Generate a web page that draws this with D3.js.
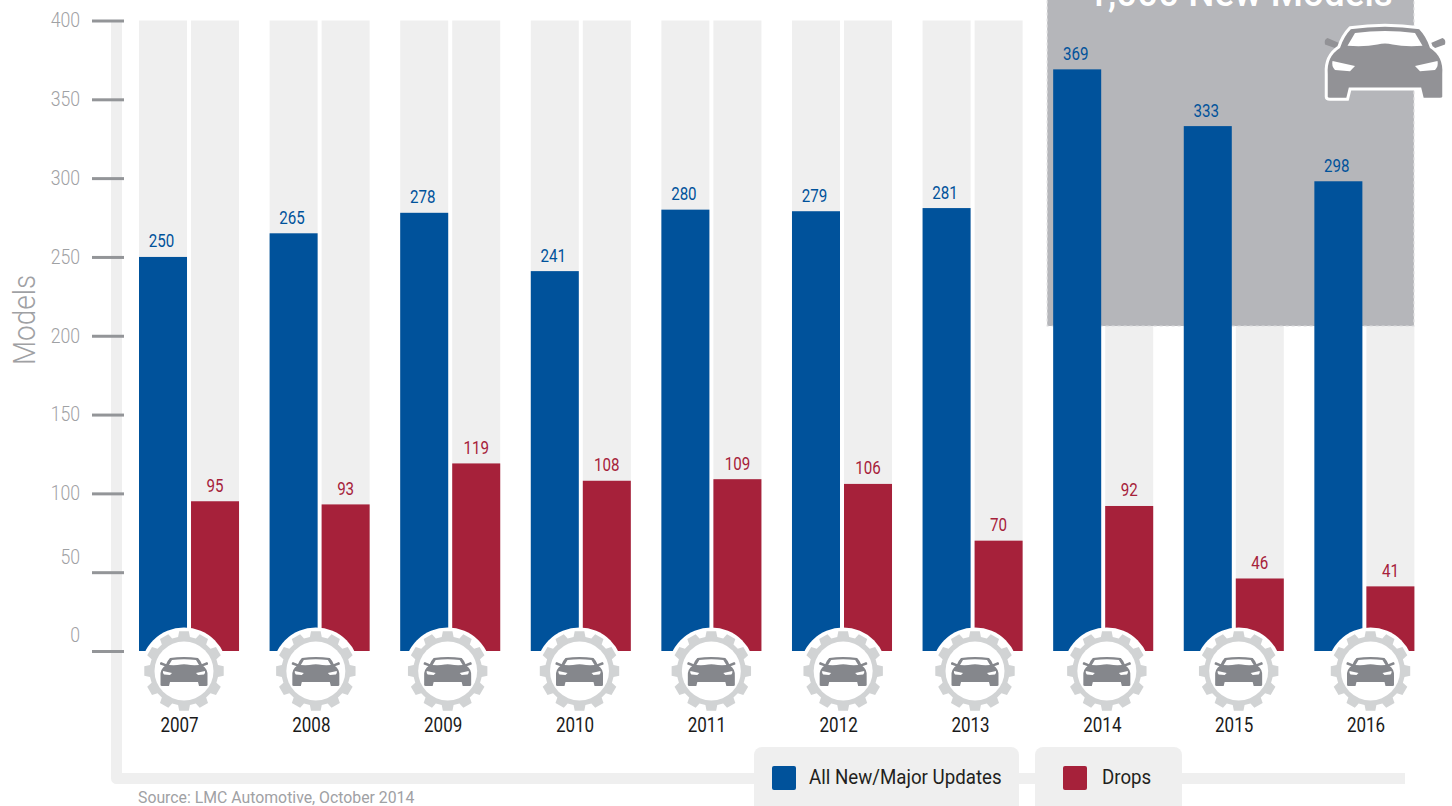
<!DOCTYPE html>
<html>
<head>
<meta charset="utf-8">
<script src="https://cdn.jsdelivr.net/npm/d3@7"></script>
<style>
  html, body { margin: 0; padding: 0; background: #fff; overflow: hidden; }
  svg { display: block; }
  text { font-family: Roboto, "Liberation Sans", sans-serif; }
</style>
</head>
<body>
<svg width="1452" height="806"></svg>
<script>
const years = ['2007', '2008', '2009', '2010', '2011', '2012', '2013', '2014', '2015', '2016'];
const updates = [250, 265, 278, 241, 280, 279, 281, 369, 333, 298];
const drops = [95, 93, 119, 108, 109, 106, 70, 92, 46, 41];
const yTicks = [0, 50, 100, 150, 200, 250, 300, 350, 400];
const legendLabels = ['All New/Major Updates', 'Drops'];

const blue = '#00529b';
const red = '#a6213a';
const lightGrey = '#efefef';
const tickGrey = '#939598';
const labelGrey = '#9fa1a4';

const svg = d3.select('svg');

// no condensed face is installed, so squeeze the text to the original's widths
function squeeze(selection, factor) {
    selection.each(function () {
        const len = this.getComputedTextLength();
        d3.select(this)
            .attr('textLength', len * factor)
            .attr('lengthAdjust', 'spacingAndGlyphs');
    });
}

// scales
const y = d3.scaleLinear().domain([0, 400]).range([651, 20.5]);
const x0 = d3.scaleBand().domain(years).range([139, 1414.4]).paddingInner(0.234);
const x1 = d3.scaleBand().domain(['updates', 'drops']).range([0, x0.bandwidth()]).paddingInner(0.077);
// the badges under the bars sit on a slightly wider pitch than the bars
const xBadge = d3.scalePoint().domain(years).range([184, 1370.5]);

// frame round the plot
svg.append('path')
    .attr('d', 'M116.5,20V778.5H1405')
    .attr('fill', 'none')
    .attr('stroke', lightGrey)
    .attr('stroke-width', 11)
    .attr('stroke-linejoin', 'round');

// y axis
const yAxis = svg.append('g')
    .attr('transform', 'translate(124,0)')
    .call(d3.axisLeft(y).tickValues(yTicks).tickSize(32).tickPadding(12));
yAxis.select('.domain').remove();
yAxis.selectAll('line').attr('stroke', tickGrey).attr('stroke-width', 3);
yAxis.selectAll('text')
    .attr('fill', labelGrey)
    .style('font-size', '21px')
    .style('font-weight', 300)
    // the two lowest labels sit above their ticks in the original
    .attr('dy', d => d <= 50 ? '-0.43em' : '0.3em')
    .call(squeeze, 0.84);

svg.append('text')
    .attr('transform', 'translate(35,320) rotate(-90)')
    .attr('text-anchor', 'middle')
    .attr('fill', labelGrey)
    .style('font-size', '31px')
    .style('font-weight', 300)
    .text('Models')
    .call(squeeze, 0.9);

// light background columns
const groups = svg.selectAll('.year')
    .data(years)
    .join('g')
    .attr('class', 'year')
    .attr('transform', d => `translate(${x0(d)},0)`);

['updates', 'drops'].forEach(key => {
    groups.append('rect')
        .attr('x', x1(key))
        .attr('y', y(400))
        .attr('width', x1.bandwidth())
        .attr('height', y(0) - y(400))
        .attr('fill', lightGrey);
});

// call-out panel behind the last three years
const panelLeft = x0('2014') - 6;
svg.append('rect')
    .attr('x', panelLeft)
    .attr('y', -4)
    .attr('width', x0('2016') + x0.bandwidth() - panelLeft - 0.5)
    .attr('height', 330)
    .attr('fill', '#b5b6ba')
    .attr('stroke', '#dcdcde')
    .attr('stroke-width', 1.2)
    .attr('stroke-dasharray', '3 3');

svg.append('text')
    .attr('x', 1240)
    .attr('y', 6)
    .attr('text-anchor', 'middle')
    .attr('fill', '#fff')
    .style('font-size', '38px')
    .style('font-weight', 500)
    .text('1,000 New Models')
    .call(squeeze, 0.97);

// bars and their value labels
const series = [
    { key: 'updates', values: updates, color: blue, labelShift: -1.5 },
    { key: 'drops', values: drops, color: red, labelShift: 0 }
];
series.forEach(s => {
    const g = svg.append('g');
    g.selectAll('rect')
        .data(s.values)
        .join('rect')
        .attr('x', (d, i) => x0(years[i]) + x1(s.key))
        .attr('y', d => y(d))
        .attr('width', x1.bandwidth())
        .attr('height', d => y(0) - y(d))
        .attr('fill', s.color);
    g.selectAll('text')
        .data(s.values)
        .join('text')
        .attr('x', (d, i) => x0(years[i]) + x1(s.key) + x1.bandwidth() / 2 + s.labelShift)
        .attr('y', d => y(d) - 9.5)
        .attr('text-anchor', 'middle')
        .attr('fill', s.color)
        .style('font-size', '18px')
        .text(d => d)
        .call(squeeze, 0.84);
});

// car icon, drawn round its own centre
function drawCar(parent, sx, sy, bodyColor, cutColor) {
    const g = parent.append('g').attr('transform', `scale(${sx},${sy})`);
    [-1, 1].forEach(side => {
        g.append('path')
            .attr('transform', `scale(${side},1)`)
            .attr('d', 'M17,-6.5L23,-9Q24.5,-8.5 24,-6.5L17,-4Z')
            .attr('fill', bodyColor);
    });
    const body = g.append('path')
        .attr('d', 'M-14,-13Q0,-15 14,-13Q17,-10 18.5,-5.5Q24,-2 23.5,5L23.5,14Q23.5,15 22,15L15,15L14,11L-14,11L-15,15L-22,15Q-23.5,15 -23.5,14L-23.5,5Q-24,-2 -18.5,-5.5Q-17,-10 -14,-13Z')
        .attr('fill', bodyColor);
    g.append('path')
        .attr('d', 'M-12,-11Q0,-12.5 12,-11L15,-6Q8,-5.5 3,-6.5Q0,-7.2 -3,-6.5Q-8,-5.5 -15,-6Z')
        .attr('fill', cutColor);
    [-1, 1].forEach(side => {
        g.append('path')
            .attr('transform', `scale(${side},1)`)
            .attr('d', 'M12,2L21,0Q21.5,2 20,3.5L14,4Z')
            .attr('fill', cutColor);
    });
    return body;
}

// big car in the panel, with a white outline
const bigCar = svg.append('g').attr('transform', 'translate(1385,61)');
drawCar(bigCar, 2.5, 2.55, '#929296', '#fff')
    .attr('stroke', '#fff')
    .attr('stroke-width', 1.2);

// gear outline for the year badges
const teeth = 12;
const gearPath = d3.lineRadial().curve(d3.curveLinearClosed)(
    d3.range(teeth).flatMap(i => {
        const a = i * 2 * Math.PI / teeth;
        const w = Math.PI / teeth;
        return [
            [a - w * 0.66, 34.5], [a - w * 0.46, 40],
            [a + w * 0.46, 40], [a + w * 0.66, 34.5]
        ];
    })
);

const badges = svg.selectAll('.badge')
    .data(years)
    .join('g')
    .attr('class', 'badge')
    .attr('transform', d => `translate(${xBadge(d)},671)`);
badges.append('circle').attr('r', 43.5).attr('fill', '#fff');
badges.append('path').attr('d', gearPath).attr('fill', '#d1d3d4');
badges.append('circle').attr('r', 29.5).attr('fill', '#fff');
badges.each(function () {
    drawCar(d3.select(this), 1, 1, '#85878c', '#fff');
});

svg.selectAll('.yearLabel')
    .data(years)
    .join('text')
    .attr('class', 'yearLabel')
    .attr('x', d => xBadge(d) - 4.5)
    .attr('y', 732)
    .attr('text-anchor', 'middle')
    .attr('fill', '#1a1a1a')
    .style('font-size', '20px')
    .text(d => d)
    .call(squeeze, 0.85);

// legend
const legendBoxes = [[754, 265], [1035, 147]];
const legendColors = [blue, red];
const legendSwatch = [772, 1063];
const legendText = [809, 1102];
legendLabels.forEach((label, i) => {
    svg.append('rect')
        .attr('x', legendBoxes[i][0])
        .attr('y', 747)
        .attr('width', legendBoxes[i][1])
        .attr('height', 70)
        .attr('rx', 8)
        .attr('fill', lightGrey);
    svg.append('rect')
        .attr('x', legendSwatch[i])
        .attr('y', 766)
        .attr('width', 24)
        .attr('height', 24)
        .attr('rx', 2)
        .attr('fill', legendColors[i]);
    svg.append('text')
        .attr('x', legendText[i])
        .attr('y', 784)
        .attr('fill', '#231f20')
        .style('font-size', '20px')
        .text(label)
        .call(squeeze, 0.935);
});

svg.append('text')
    .attr('x', 138)
    .attr('y', 803)
    .attr('fill', labelGrey)
    .style('font-size', '17px')
    .text('Source: LMC Automotive, October 2014')
    .call(squeeze, 0.93);
</script>
</body>
</html>
